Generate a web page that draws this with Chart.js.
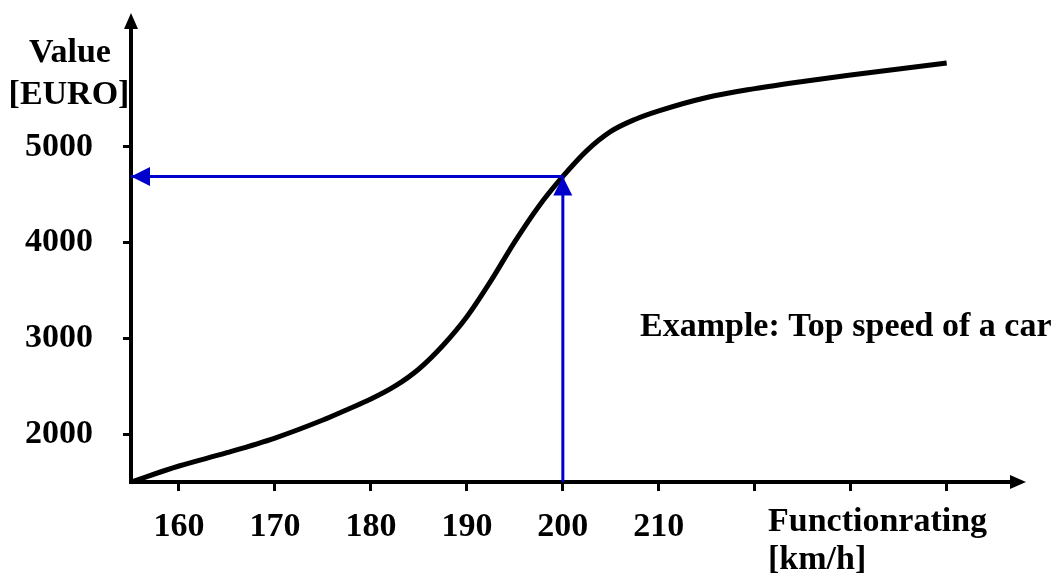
<!DOCTYPE html>
<html>
<head>
<meta charset="utf-8">
<script src="https://cdn.jsdelivr.net/npm/chart.js@4.4.0/dist/chart.umd.min.js"></script>
<style>
  html, body { margin: 0; padding: 0; background: #fff; }
  #wrap { width: 1057px; height: 574px; }
</style>
</head>
<body>
<div id="wrap"><canvas id="chart"></canvas></div>
<script>
// Value in EURO over top speed (km/h)
const speeds = [155, 160, 165, 170, 175, 177.5, 180, 182.5, 185, 187.5, 190, 192.5, 195, 197.5, 200, 202.5, 205, 207.5, 210, 215, 220, 225, 230, 235, 240];
const values = [1500, 1667, 1806, 1959, 2147, 2255, 2366, 2500, 2680, 2925, 3225, 3600, 4010, 4380, 4690, 4960, 5160, 5285, 5375, 5515, 5607, 5682, 5749, 5812, 5875];

const xTicks = [160, 170, 180, 190, 200, 210, 220, 230, 240];
const xTickLabels = ['160', '170', '180', '190', '200', '210', '', '', ''];
const yTicks = [2000, 3000, 4000, 5000];
const yTickLabels = ['2000', '3000', '4000', '5000'];

// the example reading: 200 km/h -> value
const exampleSpeed = 200;
const exampleValue = 4690;

const xMin = 155, xMax = 246.7;
const yMin = 1500, yMax = 6240;

const BLUE = '#0000CC';
const FAMILY = '"Liberation Serif", "Times New Roman", serif';
const FONT = 'bold 34px ' + FAMILY;

// Pfeilspitzen an Datensatz-Enden
const arrowHeads = {
    id: 'arrowHeads',
    afterDatasetsDraw(chart) {
        const ctx = chart.ctx;
        chart.data.datasets.forEach((ds, i) => {
            if (!ds.arrowHead) return;
            const pts = chart.getDatasetMeta(i).data;
            const p1 = pts[pts.length - 2], p2 = pts[pts.length - 1];
            const ang = Math.atan2(p2.y - p1.y, p2.x - p1.x);
            const len = 19, half = 9.5;
            ctx.save();
            ctx.translate(p2.x, p2.y);
            ctx.rotate(ang);
            ctx.fillStyle = ds.borderColor;
            ctx.beginPath();
            ctx.moveTo(0, 0);
            ctx.lineTo(-len, -half);
            ctx.lineTo(-len, half);
            ctx.closePath();
            ctx.fill();
            ctx.restore();
        });
    }
};

// Achsenpfeile und Beschriftungen
const axisDecor = {
    id: 'axisDecor',
    afterDraw(chart) {
        const { ctx, chartArea: a } = chart;
        ctx.save();
        ctx.fillStyle = '#000';
        // y axis arrow
        ctx.beginPath();
        ctx.moveTo(a.left, a.top - 15);
        ctx.lineTo(a.left - 7, a.top + 1);
        ctx.lineTo(a.left + 7, a.top + 1);
        ctx.closePath();
        ctx.fill();
        // x axis arrow
        ctx.beginPath();
        ctx.moveTo(a.right + 15, a.bottom);
        ctx.lineTo(a.right - 1, a.bottom - 7);
        ctx.lineTo(a.right - 1, a.bottom + 7);
        ctx.closePath();
        ctx.fill();

        ctx.font = FONT;
        ctx.textBaseline = 'alphabetic';
        ctx.textAlign = 'center';
        ctx.fillText('Value', 70, 62);
        ctx.fillText('[EURO]', 69, 104);
        ctx.textAlign = 'left';
        ctx.fillText('Functionrating', 768, 531);
        ctx.fillText('[km/h]', 768, 569);
        ctx.fillText('Example: Top speed of a car', 640, 336);
        ctx.restore();
    }
};

const noPad = s => { s.paddingTop = 0; s.paddingBottom = 0; s.paddingLeft = 0; s.paddingRight = 0; };

const ctx = document.getElementById('chart');
new Chart(ctx, {
    type: 'line',
    data: {
        datasets: [
            {
                data: [{ x: exampleSpeed, y: yMin }, { x: exampleSpeed, y: exampleValue }],
                borderColor: BLUE,
                borderWidth: 3,
                pointRadius: 0,
                arrowHead: true,
                clip: false,
            },
            {
                data: [{ x: exampleSpeed, y: exampleValue }, { x: xMin, y: exampleValue }],
                borderColor: BLUE,
                borderWidth: 3,
                pointRadius: 0,
                arrowHead: true,
                clip: false,
            },
            {
                data: speeds.map((s, i) => ({ x: s, y: values[i] })),
                borderColor: '#000',
                borderWidth: 5,
                pointRadius: 0,
                cubicInterpolationMode: 'monotone',
                clip: false,
            },
        ]
    },
    options: {
        responsive: true,
        maintainAspectRatio: false,
        animation: false,
        layout: { padding: { left: 0, top: 28, right: 46, bottom: 0 } },
        plugins: {
            legend: { display: false },
            tooltip: { enabled: false },
        },
        scales: {
            x: {
                type: 'linear',
                min: xMin,
                max: xMax,
                afterBuildTicks: s => { s.ticks = xTicks.map(v => ({ value: v })); },
                afterFit: s => { s.height = 92; noPad(s); },
                border: { display: true, color: '#000', width: 4 },
                grid: { drawOnChartArea: false, drawTicks: true, tickLength: 9, lineWidth: 3, color: '#000' },
                ticks: {
                    autoSkip: false,
                    maxRotation: 0,
                    padding: 16,
                    color: '#000',
                    font: { family: FAMILY, size: 34, weight: 'bold' },
                    callback: v => xTickLabels[xTicks.indexOf(v)] ?? '',
                },
            },
            y: {
                min: yMin,
                max: yMax,
                afterBuildTicks: s => { s.ticks = yTicks.map(v => ({ value: v })); },
                afterFit: s => { s.width = 131; noPad(s); },
                border: { display: true, color: '#000', width: 4 },
                grid: { drawOnChartArea: false, drawTicks: true, tickLength: 8, lineWidth: 3, color: '#000' },
                ticks: {
                    autoSkip: false,
                    padding: 30,
                    color: '#000',
                    font: { family: FAMILY, size: 34, weight: 'bold' },
                    callback: v => yTickLabels[yTicks.indexOf(v)] ?? '',
                },
            },
        },
    },
    plugins: [arrowHeads, axisDecor],
});
</script>
</body>
</html>
